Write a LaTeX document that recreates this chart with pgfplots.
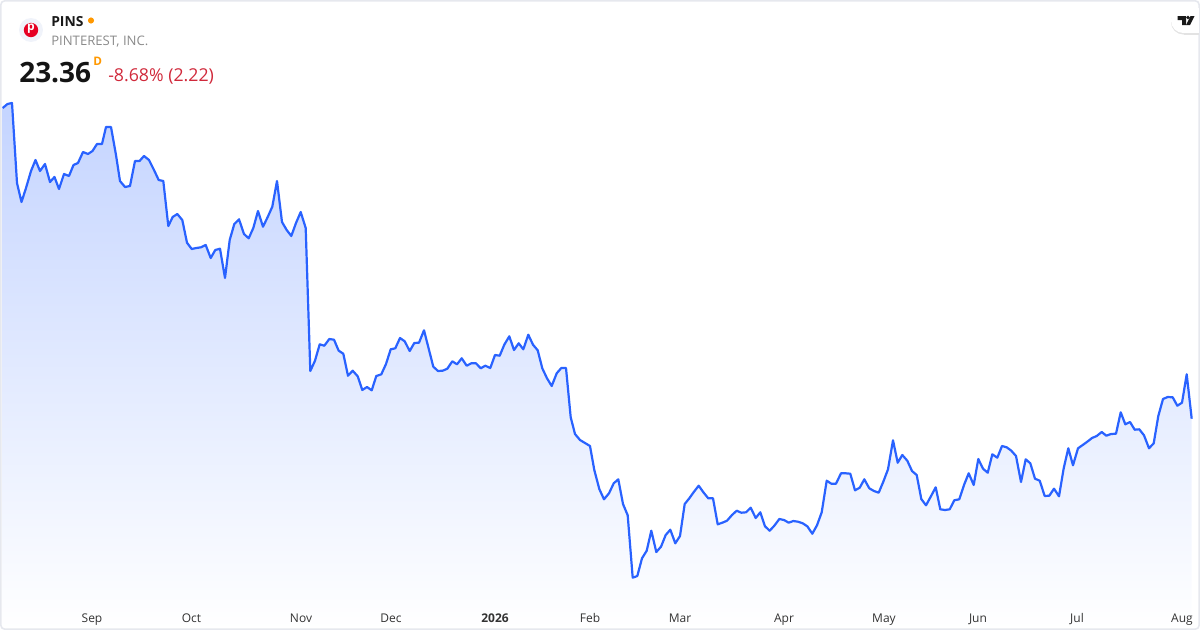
\documentclass[border=0pt]{standalone}
\usepackage{pgfplots}
\usepackage{pgfplotstable}
\usepackage{fontspec}
\pgfplotsset{compat=1.18}
\setmainfont{Open Sans}
\definecolor{tvblue}{HTML}{2962FF}
\definecolor{fillTop}{HTML}{C4D4FF}
\definecolor{cardline}{HTML}{E6E8EE}
\definecolor{axtext}{HTML}{333333}
\definecolor{subgrey}{HTML}{8A8A8A}
\definecolor{redtxt}{HTML}{D0293B}
\definecolor{orangedot}{HTML}{FF9800}
\definecolor{pinred}{HTML}{E60023}
\definecolor{logobg}{HTML}{F0F3FA}
\pgfplotstableread{
x y
2.7 108
7.5 104
12 103
17 183
21.5 202
26 188
31 171
35.5 160
40 171
45 164
50 182
54.5 177
59 189
64 174
69 176
73.5 165
78 163
83 152
88 154
92.5 151
97 144
102 144
106 127
111 127
116 155
120 181
125 187
130 186
135 161
139.5 161
144 156
149 160
154 170
158.7 180
163.3 181
168.3 226
172.7 217
177.3 214
182.3 220
187 242.7
191.7 249
196.3 248
201 247.3
205.7 245
210.7 258
215.3 250
220 248.7
225 278
229.7 240
234.3 224
239 219.3
244 234
248.7 238.3
253.3 228
258 211
263 226.7
267.7 217
272.3 206.7
277 181
282 222
286.7 230
291.3 236
296 223
300.7 212
305.7 228
310.3 371
315 360.7
319.7 344.3
324.3 345.7
329.3 339
334 339.7
338.7 350.7
343.3 353.7
348 375.7
352.7 370.7
357.7 376.3
362.3 390
367 387
371.7 390.3
376.3 376
381.3 374.3
386 364
390.7 349.3
395.3 348.3
400 338
404.7 341.3
409.7 351
414.3 343
419 342.7
424 330.3
428.7 348.7
433.3 366.7
438 371
442.7 370.7
447.3 368.7
452.3 361.3
457 364.3
461.7 358.3
466.7 365.7
471.3 363.3
476 363.3
480.7 368.3
485.3 365.7
490.3 368
495 355
499.7 355.7
504.3 344.7
509.3 336.3
514 350
518.7 343.3
523.3 349.3
528.3 334.7
533 344.7
537.7 350.3
542.3 368.3
547 378.3
551.7 386
556.7 373.3
561.3 368
566 368
570.7 417.3
575 434
580 440
585 443
590 446
594.3 470
599.3 489
604 499.3
609 493.3
613.7 483.3
618.3 479.3
623 504
627.7 515.3
632.7 577.7
637.3 576
642 558.3
646.7 550.7
651.3 530.7
656.3 552
661 546.7
665.7 535
670.3 529.7
675.3 543.3
680 536
684.7 504
689.3 498.3
694 491.7
698.7 485.7
703.7 492.7
708.3 498.3
713 498.3
717.7 524.3
722.3 522.7
727 520.7
732 515
736.7 510.7
741.3 512.7
746 512.3
750.7 507.7
755.7 518
760.3 512.3
765 526.3
769.7 530.7
774.3 525.7
779.3 519
784 520
788.7 522.7
793.3 521
798 521.7
802.7 523.3
807.3 526.3
812.3 533.7
817 525.3
821.7 512.3
826.7 480.7
831.3 483.7
836 483.7
841 473.3
845.7 473.3
850.3 473.7
855 490.3
859.7 487.7
864.3 479.3
869.3 488.3
874 491
878.7 492.7
883.3 481.7
888 469.3
893 440.3
897.7 462.7
902.3 455
907.3 460.7
912 471
916.7 475
921.3 499
926 505.3
930.7 496.7
935.7 487.3
940.3 509.3
945 510
949.7 509.3
954.3 500.3
959.3 499.3
964 485
968.7 473.3
973.7 485
978.3 459
983 468.7
987.7 472.7
992.3 454.3
997.3 457.7
1002 446
1006.7 447.3
1011.3 450.7
1016 456
1021 482
1025.7 459.3
1030.3 463.3
1035 478.7
1039.7 480.7
1044.7 496
1049.3 495.7
1054 488.7
1059 496.3
1063.7 468.3
1068.3 448.3
1073 465.3
1078 448.3
1082.7 445
1087.3 441.7
1092 438
1096.7 436
1101.7 432
1106.3 435.7
1111 434
1116 433.7
1120.7 412.3
1125.3 424.3
1130 422
1134.7 429.7
1139.3 429.3
1144 435.3
1149 448.3
1153.7 443.3
1158.3 416
1163 399
1167.7 397
1172.7 397.3
1177.3 405.7
1182 402.7
1186.7 374.3
1191.7 418.7
}\pins
\begin{document}
\begin{tikzpicture}[x=0.75pt,y=-0.75pt]
\begin{axis}[
  at={(0,0)}, anchor=north west,
  scale only axis,
  width=900pt, height=472.5pt,
  xmin=0, xmax=1200, ymin=0, ymax=630,
  y dir=reverse,
  axis on top=true,
  axis line style={draw=none},
  ytick=\empty,
  xtick={92,191.5,301,391,495,590,680,784,884,978,1077,1182},
  xticklabels={Sep,Oct,Nov,Dec,\textbf{2026},Feb,Mar,Apr,May,Jun,Jul,Aug},
  tick style={draw=none},
  x tick label style={font=\fontsize{9pt}{10pt}\selectfont, text=axtext, anchor=base, yshift=5.5pt, inner sep=0pt},
  clip=false,
]
\addplot[draw=none, top color=fillTop, bottom color=white, forget plot] table[x=x,y=y]{\pins} -- (axis cs:1191.7,630) -- (axis cs:2.7,630) -- cycle;
\addplot[tvblue, line width=1.65pt, line join=round, no marks] table[x=x,y=y]{\pins};
% card frame
\draw[cardline, line width=1.2pt, rounded corners=3pt] (axis cs:0.8,0.8) rectangle (axis cs:1199.2,629.2);
% logo
\fill[logobg] (axis cs:31,30) circle[radius=9pt];
\fill[pinred] (axis cs:31,30) circle[radius=5.4pt];
\node[text=white, font=\bfseries\fontsize{9pt}{9pt}\selectfont, inner sep=0pt] at (axis cs:31,29) {p};
% header
\node[anchor=base west, inner sep=0pt, text=black!90, font=\bfseries\fontsize{10.4pt}{11pt}\selectfont] at (axis cs:51,26) {PINS};
\fill[orangedot] (axis cs:91,20.5) circle[radius=2.3pt];
\node[anchor=base west, inner sep=0pt, text=subgrey, font=\fontsize{9.85pt}{11pt}\selectfont] at (axis cs:51,45) {PINTEREST, INC.};
\node[anchor=base west, inner sep=0pt, text=black!92, font=\bfseries\fontsize{21pt}{24pt}\selectfont] at (axis cs:19,82) {23.36};
\node[anchor=base west, inner sep=0pt, text=orangedot, font=\bfseries\fontsize{8.8pt}{10pt}\selectfont] at (axis cs:93,65) {D};
\node[anchor=base west, inner sep=0pt, text=redtxt, font=\fontsize{13.3pt}{15pt}\selectfont] at (axis cs:108,81) {-8.68\% (2.22)};
% TV tab
\fill[black!11] (axis cs:1183.5,22) circle[radius=9.4pt];
\fill[black!11] (axis cs:1183.5,9.5) rectangle (axis cs:1199.2,34.5);
\fill[white] (axis cs:1183.5,20.5) circle[radius=9.4pt];
\fill[white] (axis cs:1183.5,8) rectangle (axis cs:1199.2,33);
\fill[black!90] (axis cs:1177.5,16) -- (axis cs:1186,16) -- (axis cs:1186,25) -- (axis cs:1182,25) -- (axis cs:1182,20) -- (axis cs:1177.5,20) -- cycle;
\fill[black!90] (axis cs:1188,17.5) circle[radius=1.4pt];
\fill[black!90] (axis cs:1190.5,16) -- (axis cs:1194.5,16) -- (axis cs:1190,25) -- (axis cs:1186,25) -- cycle;
\end{axis}
\end{tikzpicture}
\end{document}
